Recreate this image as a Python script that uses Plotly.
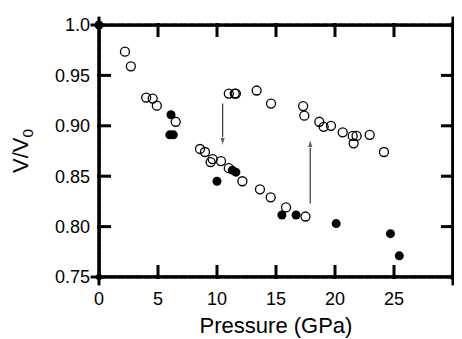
import numpy as np
import plotly.graph_objects as go

# Filled circles
filled_p = [0.0, 6.1, 6.0, 6.3, 10.0, 11.3, 11.6, 15.5, 16.7, 20.1, 24.7, 25.45]
filled_v = [1.0, 0.911, 0.891, 0.891, 0.845, 0.856, 0.854, 0.8115, 0.8115, 0.803, 0.793, 0.771]

# Open circles
open_p = [2.2, 2.7, 4.0, 4.55, 4.9, 6.5,
          8.56, 8.98, 9.46, 9.63, 10.34, 11.0, 12.15, 13.64, 14.55, 15.85, 17.5,
          11.0, 11.5, 11.6, 13.36, 14.58, 17.3, 17.4, 18.67, 19.04, 19.66, 20.65,
          21.5, 21.83, 21.58, 22.94, 24.15]
open_v = [0.9735, 0.959, 0.928, 0.927, 0.920, 0.904,
          0.877, 0.874, 0.864, 0.867, 0.865, 0.858, 0.845, 0.837, 0.829, 0.819, 0.810,
          0.932, 0.932, 0.932, 0.935, 0.922, 0.9196, 0.910, 0.904, 0.899, 0.900, 0.8935,
          0.890, 0.890, 0.8826, 0.891, 0.874]

# Arrows: x, start y, end (tip) y
arrow_x = [10.48, 17.9]
arrow_start = [0.922, 0.823]
arrow_end = [0.880, 0.887]

x_ticks = [0, 5, 10, 15, 20, 25, 30]
y_ticks = [0.75, 0.80, 0.85, 0.90, 0.95, 1.0]
y_ticktext = ["0.75", "0.80", "0.85", "0.90", "0.95", "1.0"]
x_range = [0, 30]
y_range = [0.75, 1.0]

W, H = 454, 331
L, R, T, B = 91, 9, 17, 62
TICK_PX = 10
dx = (x_range[1] - x_range[0]) / (W - L - R) * TICK_PX / 2
dy = (y_range[1] - y_range[0]) / (H - T - B) * TICK_PX / 2

fig = go.Figure()

x0, x1 = x_range
y0, y1 = y_range

# Axis frame (closed box) as a line
fig.add_trace(go.Scatter(
    x=[x0, x1, x1, x0, x0], y=[y0, y0, y1, y1, y0],
    mode="lines+markers", line=dict(color="black", width=3),
    marker=dict(size=0, color="black"),
    cliponaxis=False, showlegend=False, hoverinfo="skip"))

# Axis frame also built from overlapping dash markers along each edge
edge_x = np.linspace(x0, x1, 41).tolist()
edge_y = np.linspace(y0, y1, 33).tolist()
fig.add_trace(go.Scatter(
    x=edge_x * 2, y=[y0] * len(edge_x) + [y1] * len(edge_x),
    mode="markers", marker=dict(symbol="line-ew", size=12,
                                line=dict(color="black", width=3)),
    cliponaxis=False, showlegend=False, hoverinfo="skip"))
fig.add_trace(go.Scatter(
    x=[x0] * len(edge_y) + [x1] * len(edge_y), y=edge_y * 2,
    mode="markers", marker=dict(symbol="line-ns", size=12,
                                line=dict(color="black", width=3)),
    cliponaxis=False, showlegend=False, hoverinfo="skip"))

# Inward tick marks on all four sides
inner_x = x_ticks[1:-1]
inner_y = y_ticks[1:-1]
fig.add_trace(go.Scatter(
    x=inner_x * 2,
    y=[y0 + dy] * len(inner_x) + [y1 - dy] * len(inner_x),
    mode="markers", marker=dict(symbol="line-ns", size=TICK_PX,
                                line=dict(color="black", width=3)),
    cliponaxis=False, showlegend=False, hoverinfo="skip"))
fig.add_trace(go.Scatter(
    x=[x0 + dx] * len(inner_y) + [x1 - dx] * len(inner_y),
    y=inner_y * 2,
    mode="markers", marker=dict(symbol="line-ew", size=TICK_PX,
                                line=dict(color="black", width=3)),
    cliponaxis=False, showlegend=False, hoverinfo="skip"))

for ax, ya, yb in zip(arrow_x, arrow_start, arrow_end):
    fig.add_trace(go.Scatter(
        x=[ax, ax], y=[ya, yb], mode="lines+markers",
        line=dict(color="#222222", width=1.1),
        marker=dict(symbol=["circle", "arrow"], size=[0, 9], color="#222222",
                    angleref="previous", standoff=0),
        showlegend=False, hoverinfo="skip"))
fig.add_trace(go.Scatter(
    x=open_p, y=open_v, mode="markers",
    marker=dict(symbol="circle-open", size=9, color="black", line=dict(width=1.3)),
    cliponaxis=False, showlegend=False))
fig.add_trace(go.Scatter(
    x=filled_p, y=filled_v, mode="markers",
    marker=dict(symbol="circle", size=9, color="black"),
    cliponaxis=False, showlegend=False))

font = dict(family="Liberation Sans, Arial, sans-serif", size=18, color="black")
common = dict(ticks="", showline=False,
              showgrid=False, zeroline=False, automargin=False, tickfont=font)
fig.update_layout(
    width=W, height=H,
    margin=dict(l=L, r=R, t=T, b=B, autoexpand=False),
    plot_bgcolor="white", paper_bgcolor="white",
    font=font,
    xaxis=dict(range=x_range, tickvals=x_ticks, ticklabelstandoff=9,
               title=dict(text="Pressure (GPa)", standoff=9), **common),
    yaxis=dict(range=y_range, tickvals=y_ticks, ticktext=y_ticktext, ticklabelstandoff=8,
               title=dict(text="V/V<sub>0</sub>", standoff=20), **common),
)
fig.write_html("out.html")
